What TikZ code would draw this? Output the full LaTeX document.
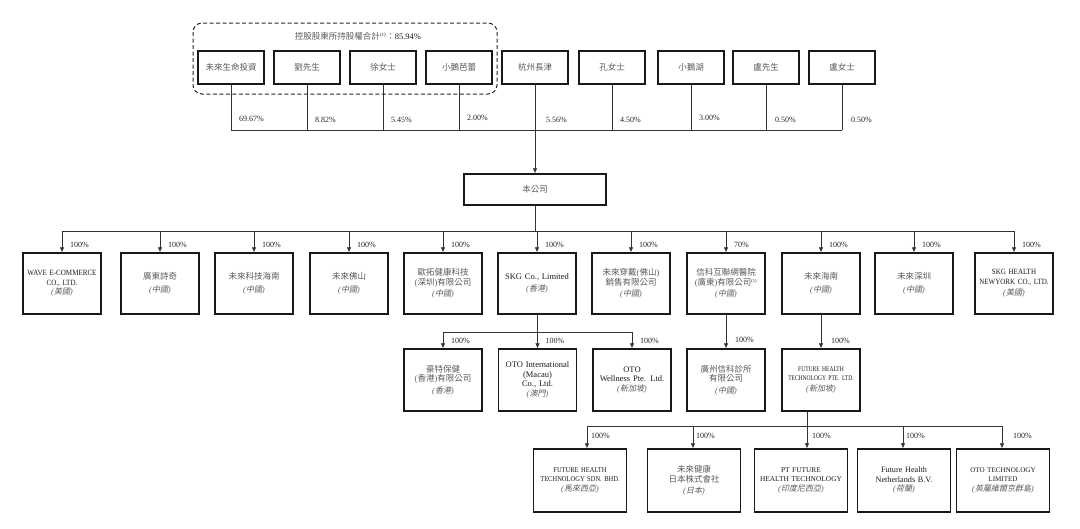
\documentclass[tikz,border=0pt]{standalone}
\usepackage{fontspec}
\setmainfont{Liberation Serif}
\newfontfamily\condA[FakeStretch=0.88]{Liberation Serif}
\newfontfamily\condB[FakeStretch=0.78]{Liberation Serif}
\newfontfamily\cjk{Noto Sans CJK TC}
\newfontfamily\cjkit[FakeSlant=0.2]{Noto Sans CJK TC}
\usetikzlibrary{arrows.meta,calc}
\definecolor{zhgray}{gray}{0.35}
\newcommand\zlp{{\rmfamily(}}
\newcommand\zrp{{\rmfamily)}}
\newcommand\zhtxt[1]{{\color{zhgray}\cjk #1}}
\newcommand\regtxt[1]{{\color{zhgray}\fontsize{8}{9.5}\selectfont\rmfamily\textit{(}{\cjkit #1}\textit{)}}}
\tikzset{
 conn/.style={line width=0.7pt, draw=black!80},
 arr/.style={conn, -{Latex[length=5pt,width=4.5pt]}},
 tbox/.style={draw=black!90, line width=1.3pt, inner sep=1pt, align=center, text=black!90, font=\fontsize{8.5}{9.5}\selectfont},
 topbox/.style={tbox, minimum width=66pt, minimum height=33pt},
 midbox/.style={tbox, minimum width=78pt, minimum height=61pt, text width=76pt},
 lowbox/.style={tbox, minimum width=93pt, minimum height=63pt, text width=91pt},
 pct/.style={anchor=west, inner sep=0pt, font=\fontsize{8}{9}\selectfont, text=black!85},
 frame/.style={draw=black!85, line width=1pt, rounded corners=9pt, dash pattern=on 4pt off 2.5pt}
}
\begin{document}
\begin{tikzpicture}[x=1pt,y=-1pt]
\useasboundingbox (0,0) rectangle (1080,528);
% controlling shareholders frame
\draw[frame] (193,23) rectangle (497,94);
\node[inner sep=0pt, font=\fontsize{8.5}{9.5}\selectfont, text=black!90] (ttl) at (358,36)
  {\zhtxt{控股股東所持股權合計}\textsuperscript{\fontsize{5}{5}\selectfont(1)}\zhtxt{：}85.94\%};
% shareholders
\node[topbox] (s1) at (231,67.5) {\zhtxt{未來生命投資}};
\node[topbox] (s2) at (307,67.5) {\zhtxt{劉先生}};
\node[topbox] (s3) at (383,67.5) {\zhtxt{徐女士}};
\node[topbox] (s4) at (459,67.5) {\zhtxt{小鵝芭蕾}};
\node[topbox] (s5) at (535,67.5) {\zhtxt{杭州長津}};
\node[topbox] (s6) at (612,67.5) {\zhtxt{孔女士}};
\node[topbox] (s7) at (691,67.5) {\zhtxt{小鵝湖}};
\node[topbox] (s8) at (766,67.5) {\zhtxt{盧先生}};
\node[topbox] (s9) at (842,67.5) {\zhtxt{盧女士}};
% company
\node[tbox, minimum width=142pt, minimum height=31pt] (co) at (535,189.5) {\zhtxt{本公司}};
\coordinate (b1) at (535,130);
\foreach \n in {s1,s2,s3,s4,s6,s7,s8,s9} \draw[conn] (\n.south) -- (\n.south |- b1);
\draw[conn] (s1.south |- b1) -- (s9.south |- b1);
\draw[arr] (s5.south) -- (co.north);
\node[pct] (p1) at (239,119) {69.67\%};
\node[pct] (p2) at (315,120) {8.82\%};
\node[pct] (p3) at (391,120) {5.45\%};
\node[pct] (p4) at (467,118) {2.00\%};
\node[pct] (p5) at (546,120) {5.56\%};
\node[pct] (p6) at (620,120) {4.50\%};
\node[pct] (p7) at (699,118) {3.00\%};
\node[pct] (p8) at (775,120) {0.50\%};
\node[pct] (p9) at (851,120) {0.50\%};
% level 2
\node[midbox, font=\fontsize{8}{9.5}\selectfont\condA] (m1) at (62,283.5) {WAVE E-COMMERCE\\CO., LTD.\\\regtxt{美國}};
\node[midbox] (m2) at (160,283.5) {\zhtxt{廣東詩奇}\\[3pt]\regtxt{中國}};
\node[midbox] (m3) at (254,283.5) {\zhtxt{未來科技海南}\\[3pt]\regtxt{中國}};
\node[midbox] (m4) at (349,283.5) {\zhtxt{未來佛山}\\[3pt]\regtxt{中國}};
\node[midbox] (m5) at (443,283.5) {\zhtxt{歐拓健康科技}\\\zhtxt{\zlp 深圳\zrp 有限公司}\\[2pt]\regtxt{中國}};
\node[midbox] (m6) at (537,283.5) {SKG Co., Limited\\[3pt]\regtxt{香港}};
\node[midbox] (m7) at (631,283.5) {\zhtxt{未來穿戴\zlp 佛山\zrp}\\\zhtxt{銷售有限公司}\\[2pt]\regtxt{中國}};
\node[midbox] (m8) at (726,283.5) {\zhtxt{信科互聯網醫院}\\\zhtxt{\zlp 廣東\zrp 有限公司}\textsuperscript{\fontsize{4.5}{5}\selectfont(1)}\\[2pt]\regtxt{中國}};
\node[midbox] (m9) at (821,283.5) {\zhtxt{未來海南}\\[3pt]\regtxt{中國}};
\node[midbox] (m10) at (914,283.5) {\zhtxt{未來深圳}\\[3pt]\regtxt{中國}};
\node[midbox, font=\fontsize{8}{9.5}\selectfont\condA] (m11) at (1014,283.5) {SKG HEALTH\\NEWYORK CO., LTD.\\[2pt]\regtxt{美國}};
\coordinate (b2) at (535,231);
\draw[conn] (co.south) -- (b2);
\draw[conn] (m1.north |- b2) -- (m11.north |- b2);
\foreach \n/\p in {m1/100,m2/100,m3/100,m4/100,m5/100,m6/100,m7/100,m8/70,m9/100,m10/100,m11/100}{
  \draw[arr] (\n.north |- b2) -- (\n.north);
  \node[pct] at ($(\n.north |- b2)+(8,14)$) {\p\%};
}
% level 3
\node[midbox, minimum height=62pt] (l1) at (443,380) {\zhtxt{豪特保健}\\\zhtxt{\zlp 香港\zrp 有限公司}\\[2pt]\regtxt{香港}};
\node[midbox, minimum height=62pt] (l2) at (537.5,380) {OTO International\\(Macau)\\Co., Ltd.\\\regtxt{澳門}};
\node[midbox, minimum height=62pt] (l3) at (632,380) {OTO\\Wellness Pte. Ltd.\\\regtxt{新加坡}};
\node[midbox, minimum height=62pt] (l4) at (726,380) {\zhtxt{廣州信科診所}\\\zhtxt{有限公司}\\[2pt]\regtxt{中國}};
\node[midbox, minimum height=62pt, font=\fontsize{7.1}{9}\selectfont\condB] (l5) at (821,380) {FUTURE HEALTH\\TECHNOLOGY PTE. LTD.\\[2pt]\regtxt{新加坡}};
\coordinate (b3) at (537,332);
\draw[conn] (m6.south) -- (m6.south |- b3);
\draw[conn] (l1.north |- b3) -- (l3.north |- b3);
\foreach \n in {l1,l2,l3}{
  \draw[arr] (\n.north |- b3) -- (\n.north);
  \node[pct] at ($(\n.north |- b3)+(8,9)$) {100\%};
}
\draw[arr] (m8.south) -- (l4.north);
\node[pct] at ($(l4.north)+(9,-8)$) {100\%};
\draw[arr] (m9.south) -- (l5.north);
\node[pct] at ($(l5.north)+(10,-7)$) {100\%};
% level 4
\node[lowbox, font=\fontsize{7.4}{9}\selectfont\condA] (f1) at (580,480.5) {FUTURE HEALTH\\TECHNOLOGY SDN. BHD.\\[1pt]\regtxt{馬來西亞}};
\node[lowbox] (f2) at (694,480.5) {\zhtxt{未來健康}\\\zhtxt{日本株式會社}\\[2pt]\regtxt{日本}};
\node[lowbox, font=\fontsize{7.4}{9}\selectfont] (f3) at (801,480.5) {PT FUTURE\\HEALTH TECHNOLOGY\\[1pt]\regtxt{印度尼西亞}};
\node[lowbox, font=\fontsize{8.2}{9.5}\selectfont] (f4) at (904,480.5) {Future Health\\Netherlands B.V.\\\regtxt{荷蘭}};
\node[lowbox, font=\fontsize{7.1}{9}\selectfont] (f5) at (1003,480.5) {OTO TECHNOLOGY\\LIMITED\\[1pt]\regtxt{英屬維爾京群島}};
\draw[arr] ($(l5.south)+(-14,0)$) -- ($(f3.north)+(6,0)$);
\draw[conn] ($(f1.north)+(7,-22)$) -- ($(f5.north)+(-1,-22)$);
\foreach \n/\dx in {f1/7,f2/-1,f4/-1,f5/-1}
  \draw[arr] ($(\n.north)+(\dx,-22)$) -- ($(\n.north)+(\dx,0)$);
\node[pct] at (591,436) {100\%};
\node[pct] at (696,436) {100\%};
\node[pct] at (812,436) {100\%};
\node[pct] at (906,436) {100\%};
\node[pct] at (1013,436) {100\%};
\end{tikzpicture}
\end{document}
